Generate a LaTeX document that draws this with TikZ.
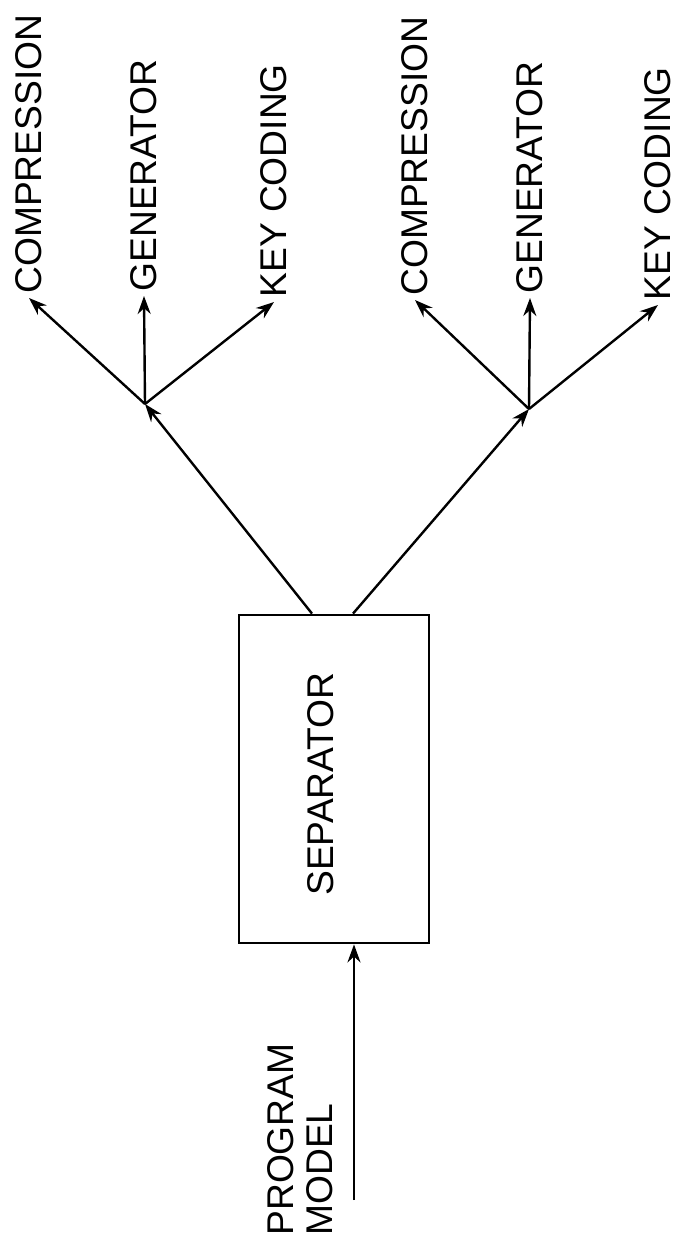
\documentclass[tikz,border=0pt]{standalone}
\usepackage{fontspec}
\setmainfont{Liberation Sans}
\usetikzlibrary{arrows.meta}
\tikzset{
  etiqueta/.style={rotate=90, anchor=west, inner sep=2pt, font=\fontsize{18.6}{19.5}\selectfont},
  flecha/.style={line width=1.2pt, -{Stealth[length=9pt,width=6.5pt]}}
}
\begin{document}
\begin{tikzpicture}[x=0.5pt, y=-0.5pt]
    \useasboundingbox (0,0) rectangle (676,1243);

    % Bloque separador
    \node[draw, line width=1.4pt, minimum width=95pt, minimum height=164pt] (sep) at (334,779) {};
    \node[etiqueta, anchor=center] (septxt) at (321,784) {SEPARATOR};

    % Entrada del modelo
    \coordinate (in) at (354,1200);
    \node[etiqueta, align=left] (prog) at (300,1240) {PROGRAM\\MODEL};
    \draw[flecha] (in) -- (in |- sep.south);

    % Puntos de reparto
    \coordinate (j1) at (145,404);
    \coordinate (j2) at (529,409);
    \draw[flecha] ([xshift=-11pt]sep.north) -- (j1);
    \draw[flecha] ([xshift=9.5pt]sep.north) -- (j2);

    % Salidas del primer grupo
    \node[etiqueta] (comp1) at (29,298) {COMPRESSION};
    \node[etiqueta] (gen1) at (144,296) {GENERATOR};
    \node[etiqueta] (key1) at (274,302) {KEY CODING};
    \draw[flecha] (j1) -- (comp1.west);
    \draw[flecha] (j1) -- (gen1.west);
    \draw[flecha] (j1) -- (key1.west);

    % Salidas del segundo grupo
    \node[etiqueta] (comp2) at (415,300) {COMPRESSION};
    \node[etiqueta] (gen2) at (530,298) {GENERATOR};
    \node[etiqueta] (key2) at (658,305) {KEY CODING};
    \draw[flecha] (j2) -- (comp2.west);
    \draw[flecha] (j2) -- (gen2.west);
    \draw[flecha] (j2) -- (key2.west);
\end{tikzpicture}
\end{document}
